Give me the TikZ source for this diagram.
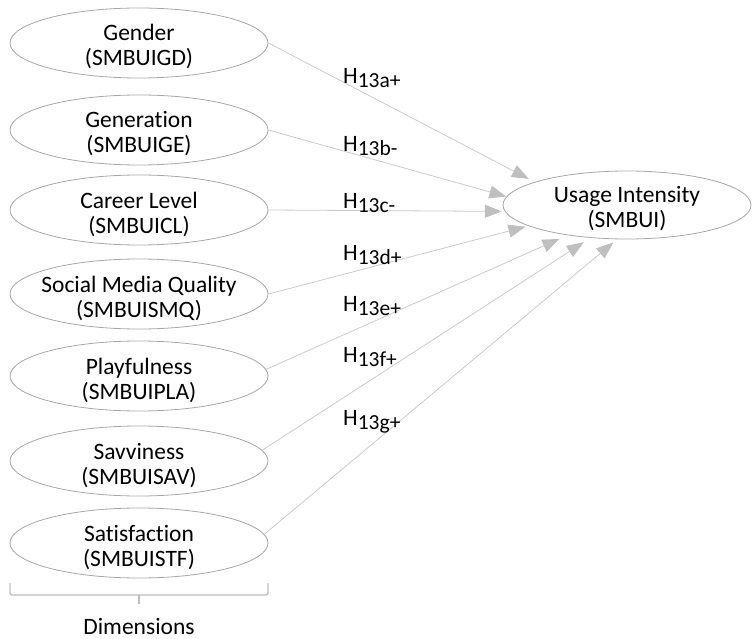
\documentclass[tikz,border=0pt]{standalone}
\usepackage{fontspec}
\setmainfont{Carlito}[Ligatures={NoCommon}]
\usetikzlibrary{arrows.meta,shapes.geometric}

\definecolor{rimgray}{HTML}{A6A6A6}
\definecolor{linkgray}{HTML}{CACACA}
\definecolor{headgray}{HTML}{BFBFBF}
\definecolor{bracegray}{HTML}{BFBFBF}

% two centred lines of text in a zero-width box, first line on the baseline
\newcommand{\twolines}[2]{\makebox[0pt]{\begin{tabular}[t]{@{}c@{}}#1\\#2\end{tabular}}}
% hypothesis label with a lowered index
\newcommand{\hyp}[1]{H\raisebox{-4pt}{\fontsize{21.5pt}{22pt}\selectfont #1}}

\begin{document}
\begin{tikzpicture}[x=1pt,y=-1pt,
  construct/.style={ellipse, draw=rimgray, line width=0.8pt, inner sep=0pt,
    minimum width=258pt, minimum height=70pt,
    text height=20pt, text depth=24pt,
    font=\fontsize{23.5pt}{25pt}\selectfont},
  target/.style={construct, minimum width=248pt, minimum height=68pt},
  link/.style={draw=linkgray, line width=0.8pt,
    -{Triangle[length=17pt,width=13pt,fill=headgray,color=headgray]}},
  hyplabel/.style={anchor=base west, inner sep=0pt,
    font=\fontsize{23.5pt}{25pt}\selectfont},
  bracket/.style={draw=bracegray, line width=1.4pt, rounded corners=2pt}
]
\useasboundingbox (0,0) rectangle (752,639);

% dimensions
\node[construct] (gd) at (139,43)  {\twolines{Gender}{(SMBUIGD)}};
\node[construct] (ge) at (139,130) {\twolines{Generation}{(SMBUIGE)}};
\node[construct] (cl) at (139,210) {\twolines{Career Level}{(SMBUICL)}};
\node[construct] (sq) at (139,294) {\twolines{Social Media Quality}{(SMBUISMQ)}};
\node[construct] (pl) at (139,376) {\twolines{Playfulness}{(SMBUIPLA)}};
\node[construct] (sv) at (139,461) {\twolines{Savviness}{(SMBUISAV)}};
\node[construct] (sf) at (139,543) {\twolines{Satisfaction}{(SMBUISTF)}};

% outcome
\node[target] (ui) at (627,205) {\twolines{Usage Intensity}{(SMBUI)}};

% paths
\draw[link, shorten >=6.5pt] (gd.east) -- (ui.166);
\draw[link, shorten >=0pt]   (ge.east) -- (ui.176);
\draw[link, shorten >=3pt]   (cl.east) -- (ui.183);
\draw[link, shorten >=3pt]   (sq.east) -- (ui.192);
\draw[link, shorten >=9pt]   (pl.3)    -- (ui.207);
\draw[link, shorten >=8pt]   (sv.5)    -- (ui.222);
\draw[link, shorten >=5pt]   (sf.4)    -- (ui.254);

% hypotheses
\node[hyplabel] (ha) at (343,84)  {\hyp{13a+}};
\node[hyplabel] (hb) at (343,152) {\hyp{13b-}};
\node[hyplabel] (hc) at (343,208) {\hyp{13c-}};
\node[hyplabel] (hd) at (343,260) {\hyp{13d+}};
\node[hyplabel] (he) at (343,311) {\hyp{13e+}};
\node[hyplabel] (hf) at (343,362) {\hyp{13f+}};
\node[hyplabel] (hg) at (343,425) {\hyp{13g+}};

% grouping bracket under the dimensions
\draw[bracket] (10,583) -- (10,595) -- (268,595) -- (268,583);
\draw[bracket, rounded corners=0pt] (139,595) -- (139,604);
\node[anchor=base, inner sep=0pt, font=\fontsize{23.5pt}{25pt}\selectfont]
  (dim) at (139,634) {Dimensions};
\end{tikzpicture}
\end{document}
